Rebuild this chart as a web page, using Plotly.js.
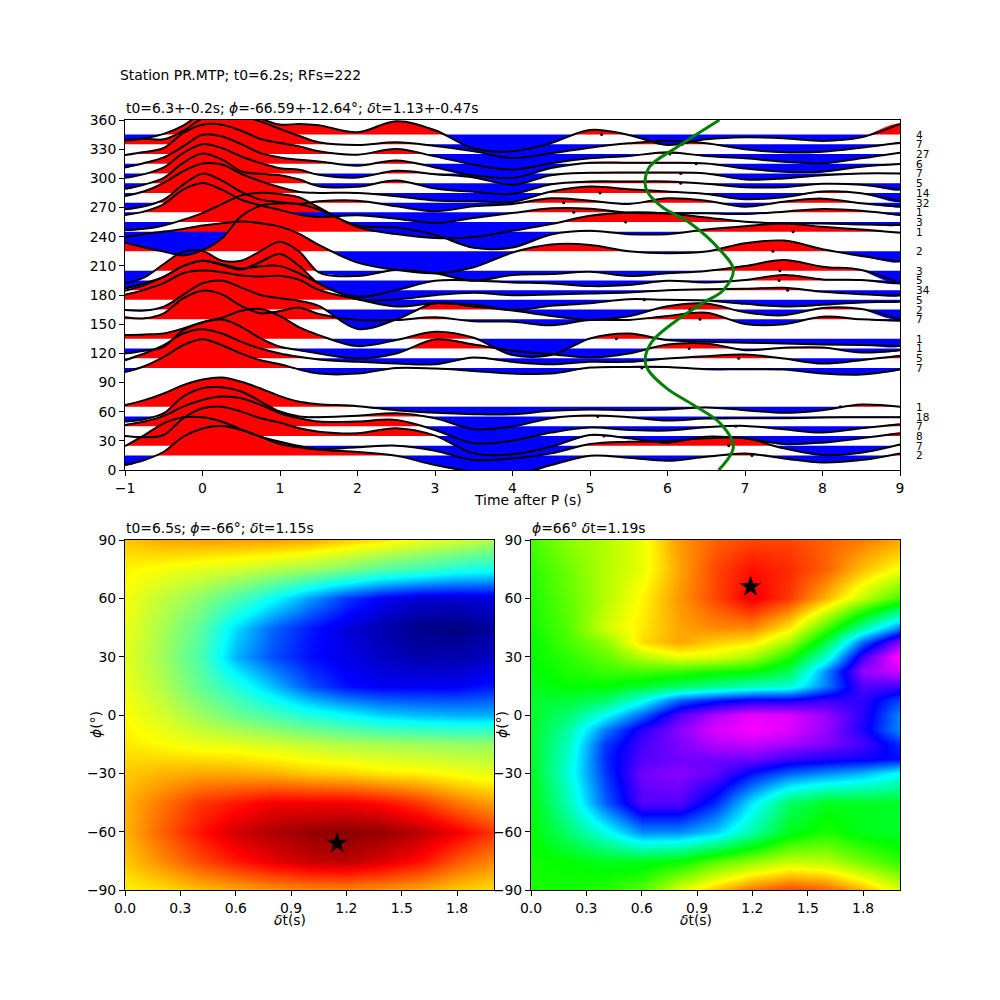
<!DOCTYPE html>
<html><head><meta charset="utf-8">
<script src="https://cdn.plot.ly/plotly-3.0.1.min.js"></script>
<style>html,body{margin:0;padding:0;background:#fff}</style></head>
<body><div id="chart" style="width:1000px;height:1000px"></div>
<script>
// Time grid for the receiver-function readings (s after P)
const TIME = [-1,-0.75,-0.5,-0.25,0,0.25,0.5,0.75,1,1.25,1.5,2,2.5,3,3.5,4,4.5,5,5.5,6,6.5,7,7.5,8,8.5,9];
// Amplitudes, per back-azimuth bin
const RF_15  = [-29,-14,11,56,81,88,76,56,41,28,18,10,-1,-29,-49,-59,-29,-1,-7,-16,-4,6,-9,-21,-14,6];
const RF_25  = [-1,32,67,85,85,72,49,27,5,-5,-11,-5,0,-15,-43,-38,-23,5,12,14,22,22,-8,-28,-21,4];
const RF_35  = [0,-4,3,53,83,88,73,53,40,23,13,8,23,1,-52,-55,-32,3,-7,-20,-2,-7,-24,-20,-7,8];
const RF_45  = [4,14,31,59,79,89,84,64,39,24,14,14,19,-11,-51,-43,-19,-4,-11,-13,-3,1,-9,-19,-6,6];
const RF_55  = [-15,-8,10,60,85,88,75,45,15,0,-2,2,10,-5,-38,-30,-5,3,-2,-12,-6,-5,-5,-3,-2,-2];
const RF_65  = [5,20,40,65,82,88,75,55,32,15,8,2,-10,-18,-22,-22,-12,-8,-10,-8,-2,-10,-18,-10,7,0];
const RF_105 = [-12,5,33,68,86,68,43,23,11,-5,-17,-17,0,-2,-9,-17,-17,1,3,3,-4,-4,-5,-17,-20,-5];
const RF_115 = [-6,14,39,74,87,74,49,29,14,4,-4,-11,-16,-18,2,-11,-18,-11,-11,-1,6,11,-1,-16,-6,7];
const RF_125 = [-15,-7,5,55,78,87,65,30,5,-5,-15,-30,-15,27,12,-7,-17,-27,-15,12,15,-5,2,3,-12,-5];
const RF_135 = [11,13,16,31,50,63,84,89,68,34,11,-22,-4,21,3,-49,-49,1,16,-4,-9,-12,-14,-17,-19,-22];
const RF_155 = [6,3,18,63,86,75,40,18,25,35,16,-2,-2,6,-6,-7,-18,-2,-2,10,20,-14,-15,8,0,-4];
const RF_165 = [-1,-3,9,44,79,87,66,44,34,26,11,-58,-30,19,9,-3,-19,-31,-20,10,18,-8,-17,5,2,-30];
const RF_175 = [15,30,50,80,88,83,73,70,72,60,30,2,-20,-10,-15,-30,-18,-10,2,0,-2,-12,-20,-15,-8,-6];
const RF_185 = [-2,15,40,72,88,78,65,72,72,50,20,-27,-28,-15,-8,-15,-13,-10,-7,0,3,4,7,-5,-12,-16];
const RF_195 = [-24,-9,11,43,59,46,33,56,79,43,-9,-49,-29,-1,0,-6,-9,-17,-14,-1,-6,1,16,3,1,-9];
const RF_205 = [-38,-20,20,57,59,30,30,59,87,57,-5,-16,2,-8,-30,-13,-10,-3,-16,-8,-1,14,32,12,2,-38];
const RF_225 = [42,52,59,67,77,84,89,84,74,52,19,-34,-56,-66,-48,-4,20,19,0,-6,-1,24,32,6,-14,-31];
const RF_245 = [-32,-47,-59,-71,-55,-20,47,78,85,83,67,19,13,-9,-48,-47,-8,3,-7,-7,7,17,25,15,7,-3];
const RF_255 = [-24,-20,-10,7,27,54,80,88,84,74,44,-15,-36,-48,-45,-26,-6,19,29,26,14,1,-4,-4,-7,-9];
const RF_265 = [-8,3,25,68,88,68,38,21,7,-7,-14,-9,-19,-32,-17,-2,12,11,-1,-3,-3,-5,2,10,5,-8];
const RF_275 = [-20,-11,9,54,87,66,32,9,2,-4,4,6,-11,-26,-11,-4,13,6,-4,13,6,-12,3,12,-2,-12];
const RF_285 = [-9,5,30,65,88,85,57,35,17,3,0,0,-10,-23,-25,-27,4,19,11,4,-3,-19,-13,4,-1,-26];
const RF_295 = [-17,-4,16,61,89,71,36,28,24,11,-9,-11,8,-16,-26,-32,-3,5,5,5,-2,-12,-12,-2,-5,-20];
const RF_305 = [-13,-2,18,61,88,76,51,31,16,11,-4,-12,8,-2,-12,-34,-5,2,3,3,0,-18,-15,-5,0,0];
const RF_315 = [-11,2,19,52,87,82,59,32,19,12,7,-6,10,-11,-35,-43,-13,3,3,3,1,-14,-24,-24,-9,-1];
const RF_325 = [-3,6,18,63,88,88,70,45,33,23,8,-2,15,-7,-32,-47,-28,-13,-6,5,-6,-13,-23,-28,-13,4];
const RF_335 = [13,17,15,40,78,95,85,68,46,25,6,-2,6,-5,-21,-41,-27,-10,3,11,3,-15,-24,-22,-10,5];
const RF_345 = [-18,-12,2,27,65,85,75,48,30,32,28,7,40,13,-42,-50,-25,14,-1,-31,-14,-8,-11,-19,-8,32];
const BAZ = [15,25,35,45,55,65,105,115,125,135,155,165,175,185,195,205,225,245,255,265,275,285,295,305,315,325,335,345];
const RF = [RF_15,RF_25,RF_35,RF_45,RF_55,RF_65,RF_105,RF_115,RF_125,RF_135,RF_155,RF_165,RF_175,RF_185,RF_195,RF_205,RF_225,RF_245,RF_255,RF_265,RF_275,RF_285,RF_295,RF_305,RF_315,RF_325,RF_335,RF_345];
const COUNTS = ['2','7','8','7','18','1','7','5','1','1','7','2','5','34','5','3','2','1','3','1','32','14','5','7','6','27','7','4'];
const DOT_T = [7.09,6.79,5.18,6.88,5.10,8.23,5.67,6.92,6.28,5.34,6.42,6.29,5.70,7.55,7.44,7.45,7.36,7.62,5.46,4.79,4.66,5.13,6.17,6.17,6.37,6.03,6.19,5.15];
const AMP_PER_DEG = 2.917;
// Predicted delay curve
const CURVE_BAZ = [0,24,48,67,84,103,113,132,154,172,185,206,226,254,270,285,295,312,332,360];
const CURVE_T = [6.66,6.85,6.68,6.33,5.99,5.75,5.71,5.80,6.12,6.46,6.72,6.85,6.68,6.29,5.94,5.75,5.71,5.77,6.12,6.67];
// Grid-search maps, values normalised to 0..1
const DT_GRID = [0,0.2,0.4,0.6,0.8,1,1.2,1.4,1.6,1.8,2];
const PHI_GRID_L = [-90,-75,-60,-45,-30,-15,0,15,30,45,60,75,90];
const PHI_GRID_R = [-90,-75,-60,-45,-30,-22.5,-15,-7.5,0,7.5,15,22.5,30,37.5,45,60,75,90];
const MAP_L_M90=[.66,.68,.71,.73,.75,.76,.76,.75,.73,.70,.68];
const MAP_L_M75=[.70,.76,.82,.87,.91,.94,.95,.92,.88,.81,.76];
const MAP_L_M60=[.72,.80,.87,.93,.96,.98,.99,.98,.95,.90,.84];
const MAP_L_M45=[.72,.78,.84,.87,.90,.90,.90,.88,.84,.78,.74];
const MAP_L_M30=[.70,.72,.73,.73,.72,.70,.69,.67,.66,.64,.62];
const MAP_L_M15=[.67,.65,.63,.62,.60,.58,.56,.55,.54,.53,.53];
const MAP_L_0  =[.65,.60,.54,.48,.43,.38,.34,.30,.28,.27,.27];
const MAP_L_P15=[.63,.56,.47,.38,.28,.18,.12,.10,.10,.10,.13];
const MAP_L_P30=[.62,.54,.44,.27,.18,.12,.09,.06,.04,.04,.06];
const MAP_L_P45=[.63,.55,.46,.31,.20,.13,.08,.04,.01,0,.03];
const MAP_L_P60=[.64,.58,.52,.44,.35,.25,.16,.10,.07,.07,.08];
const MAP_L_P75=[.66,.64,.62,.60,.57,.54,.50,.45,.42,.38,.36];
const MAP_L_P90=[.70,.73,.74,.74,.74,.73,.70,.67,.63,.60,.56];
const MAP_R_M90=[.62,.61,.63,.66,.76,.83,.89,.92,.90,.84,.76];
const MAP_R_M75=[.61,.60,.58,.58,.60,.66,.70,.74,.73,.68,.63];
const MAP_R_M60=[.60,.52,.43,.33,.33,.38,.48,.58,.62,.58,.57];
const MAP_R_M45=[.59,.47,.30,.17,.17,.26,.40,.53,.58,.58,.57];
const MAP_R_M30=[.58,.44,.27,.15,.13,.16,.24,.30,.33,.36,.42];
const MAP_R_M22=[.57,.45,.26,.17,.15,.15,.15,.19,.21,.22,.24];
const MAP_R_M15=[.57,.46,.27,.18,.14,.10,.09,.11,.14,.18,.26];
const MAP_R_M7 =[.57,.48,.32,.20,.13,.07,.05,.07,.12,.21,.33];
const MAP_R_0  =[.57,.52,.42,.30,.17,.10,.06,.07,.12,.20,.33];
const MAP_R_P7 =[.57,.56,.53,.43,.30,.25,.22,.22,.19,.20,.28];
const MAP_R_P15=[.58,.60,.60,.57,.53,.50,.47,.45,.32,.17,.18];
const MAP_R_P22=[.59,.62,.64,.65,.64,.62,.60,.54,.33,.12,.08];
const MAP_R_P30=[.60,.63,.67,.73,.77,.76,.72,.62,.45,.18,.03];
const MAP_R_P37=[.60,.65,.70,.81,.85,.82,.80,.72,.55,.30,.13];
const MAP_R_P45=[.61,.66,.75,.80,.85,.87,.87,.80,.65,.48,.32];
const MAP_R_P60=[.62,.67,.73,.79,.86,.92,.98,.93,.84,.74,.65];
const MAP_R_P75=[.63,.68,.73,.77,.85,.92,.96,.94,.90,.83,.78];
const MAP_R_P90=[.65,.70,.73,.77,.86,.90,.92,.92,.90,.88,.85];
const MAP_L=[MAP_L_M90,MAP_L_M75,MAP_L_M60,MAP_L_M45,MAP_L_M30,MAP_L_M15,MAP_L_0,MAP_L_P15,MAP_L_P30,MAP_L_P45,MAP_L_P60,MAP_L_P75,MAP_L_P90];
const MAP_R=[MAP_R_M90,MAP_R_M75,MAP_R_M60,MAP_R_M45,MAP_R_M30,MAP_R_M22,MAP_R_M15,MAP_R_M7,MAP_R_0,MAP_R_P7,MAP_R_P15,MAP_R_P22,MAP_R_P30,MAP_R_P37,MAP_R_P45,MAP_R_P60,MAP_R_P75,MAP_R_P90];
const BEST_L = {dt:1.15, phi:-66};
const BEST_R = {dt:1.19, phi:66};

const JET=[[0,'#00007f'],[0.11,'#0000ff'],[0.34,'#00ffff'],[0.5,'#7dff7a'],[0.65,'#ffff00'],[0.89,'#ff0000'],[1,'#7f0000']];
const RAINBOW_R=[[0,'#ff00bf'],[0.046,'#ff00ff'],[0.23,'#0000ff'],[0.414,'#00ffff'],[0.6,'#00ff00'],[0.785,'#ffff00'],[0.97,'#ff0000'],[1,'#ff0029']];
const FONT='"DejaVu Sans"';

// One closed lobe per run of same-signed samples, closed along the baseline.
function lobes(amp, sign){
  const out=[]; let cur=null;
  for(let i=0;i<TIME.length;i++){
    const v=amp[i]*sign;
    if(v>0){
      if(!cur){
        cur={x:[],y:[]};
        if(i===0){cur.x.push(TIME[0]);cur.y.push(0);}
        else{const p=amp[i-1]*sign;const f=p/(p-v);cur.x.push(TIME[i-1]+f*(TIME[i]-TIME[i-1]));cur.y.push(0);}
      }
      cur.x.push(TIME[i]);cur.y.push(amp[i]);
    }else if(cur){
      const p=amp[i-1]*sign;const f=p/(p-v);
      cur.x.push(TIME[i-1]+f*(TIME[i]-TIME[i-1]));cur.y.push(0);
      out.push(cur);cur=null;
    }
  }
  if(cur){cur.x.push(TIME[TIME.length-1]);cur.y.push(0);out.push(cur);}
  return out;
}
const data=[];
BAZ.forEach((b,k)=>{
  [[1,'#ff0000'],[-1,'#0000ff']].forEach(([s,c])=>{
    lobes(RF[k],s).forEach(l=>{
      data.push({type:'scatter',mode:'lines',xaxis:'x',yaxis:'y',x:l.x,y:l.y.map(v=>b+v/AMP_PER_DEG),
        fill:'toself',fillcolor:c,line:{width:0,shape:'spline'},hoverinfo:'skip',showlegend:false});
    });
  });
});
BAZ.forEach((b,k)=>{
  data.push({type:'scatter',mode:'lines',xaxis:'x',yaxis:'y',x:TIME,y:RF[k].map(v=>b+v/AMP_PER_DEG),
    line:{color:'#000',width:2,shape:'spline'},hoverinfo:'skip',showlegend:false});
});
data.push({type:'scatter',mode:'markers',xaxis:'x',yaxis:'y',x:DOT_T,y:BAZ,marker:{color:'#000',size:3},hoverinfo:'skip',showlegend:false});
data.push({type:'scatter',mode:'lines',xaxis:'x',yaxis:'y',x:CURVE_T,y:CURVE_BAZ,line:{color:'#008000',width:3,shape:'spline'},hoverinfo:'skip',showlegend:false});
data.push({type:'heatmap',xaxis:'x2',yaxis:'y2',x:DT_GRID,y:PHI_GRID_L,z:MAP_L,zmin:0,zmax:1,zsmooth:'best',colorscale:JET,showscale:false,hoverinfo:'skip'});
data.push({type:'heatmap',xaxis:'x3',yaxis:'y3',x:DT_GRID,y:PHI_GRID_R,z:MAP_R,zmin:0,zmax:1,zsmooth:'best',colorscale:RAINBOW_R,showscale:false,hoverinfo:'skip'});
data.push({type:'scatter',mode:'markers',xaxis:'x2',yaxis:'y2',x:[BEST_L.dt],y:[BEST_L.phi],marker:{symbol:'star',color:'#000',size:16},hoverinfo:'skip',showlegend:false});
data.push({type:'scatter',mode:'markers',xaxis:'x3',yaxis:'y3',x:[BEST_R.dt],y:[BEST_R.phi],marker:{symbol:'star',color:'#000',size:16},hoverinfo:'skip',showlegend:false});

const axisBase={showline:true,mirror:true,linecolor:'#000',linewidth:1,ticks:'outside',ticklen:5,tickwidth:1,tickcolor:'#000',
  showgrid:false,zeroline:false,tickfont:{family:FONT,size:13.9,color:'#000'},tickangle:0};
const PHI_TICKS=[-90,-60,-30,0,30,60,90], DT_TICKS=[0,0.3,0.6,0.9,1.2,1.5,1.8];
const DT_LABELS=['0.0','0.3','0.6','0.9','1.2','1.5','1.8'];
const phiLabels=PHI_TICKS.map(v=>String(v).replace('-','\u2212'));
const txt=(x,y,t,o={})=>({xref:'paper',yref:'paper',x:x,y:y,xanchor:o.xa||'left',yanchor:'middle',showarrow:false,text:t,textangle:o.rot||0,font:{family:FONT,size:13.9,color:'#000'}});
const layout={
  width:1000,height:1000,margin:{l:0,r:0,t:0,b:0},paper_bgcolor:'#fff',plot_bgcolor:'#fff',showlegend:false,
  font:{family:FONT,color:'#000'},
  title:{text:'Station PR.MTP; t0=6.2s; RFs=222',x:0.12,xanchor:'left',y:0.925,yanchor:'middle',font:{family:FONT,size:13.9,color:'#000'}},
  xaxis:{...axisBase,domain:[0.125,0.9],anchor:'y',range:[-1,9],tickmode:'array',tickvals:[-1,0,1,2,3,4,5,6,7,8,9],ticktext:['\u22121','0','1','2','3','4','5','6','7','8','9']},
  yaxis:{...axisBase,domain:[0.53,0.88],anchor:'x',range:[0,360],tickmode:'array',tickvals:[0,30,60,90,120,150,180,210,240,270,300,330,360]},
  xaxis2:{...axisBase,domain:[0.125,0.494],anchor:'y2',range:[0,2],tickmode:'array',tickvals:DT_TICKS,ticktext:DT_LABELS},
  yaxis2:{...axisBase,domain:[0.11,0.46],anchor:'x2',range:[-90,90],tickmode:'array',tickvals:PHI_TICKS,ticktext:phiLabels},
  xaxis3:{...axisBase,domain:[0.531,0.9],anchor:'y3',range:[0,2],tickmode:'array',tickvals:DT_TICKS,ticktext:DT_LABELS},
  yaxis3:{...axisBase,domain:[0.11,0.46],anchor:'x3',range:[-90,90],tickmode:'array',tickvals:PHI_TICKS,ticktext:phiLabels},
  annotations:[
    ...BAZ.map((b,k)=>({xref:'paper',yref:'y',x:0.9135,y:b,xanchor:'left',yanchor:'middle',showarrow:false,text:COUNTS[k],font:{family:FONT,size:10.5,color:'#000'}})),
    txt(0.124,0.892,'t0=6.3+-0.2s; <i>\u03d5</i>=-66.59+-12.64\u00b0; <i>\u03b4</i>t=1.13+-0.47s'),
    txt(0.124,0.472,'t0=6.5s; <i>\u03d5</i>=-66\u00b0; <i>\u03b4</i>t=1.15s'),
    txt(0.530,0.472,'<i>\u03d5</i>=66\u00b0 <i>\u03b4</i>t=1.19s'),
    txt(0.5275,0.5,'Time after P (s)',{xa:'center'}),
    txt(0.29,0.08,'<i>\u03b4</i>t(s)',{xa:'center'}),
    txt(0.696,0.08,'<i>\u03b4</i>t(s)',{xa:'center'}),
    txt(0.096,0.275,'<i>\u03d5</i>(\u00b0)',{xa:'center',rot:-90}),
    txt(0.502,0.275,'<i>\u03d5</i>(\u00b0)',{xa:'center',rot:-90})
  ]
};
Plotly.newPlot('chart',data,layout,{displayModeBar:false,staticPlot:true});
</script></body></html>
